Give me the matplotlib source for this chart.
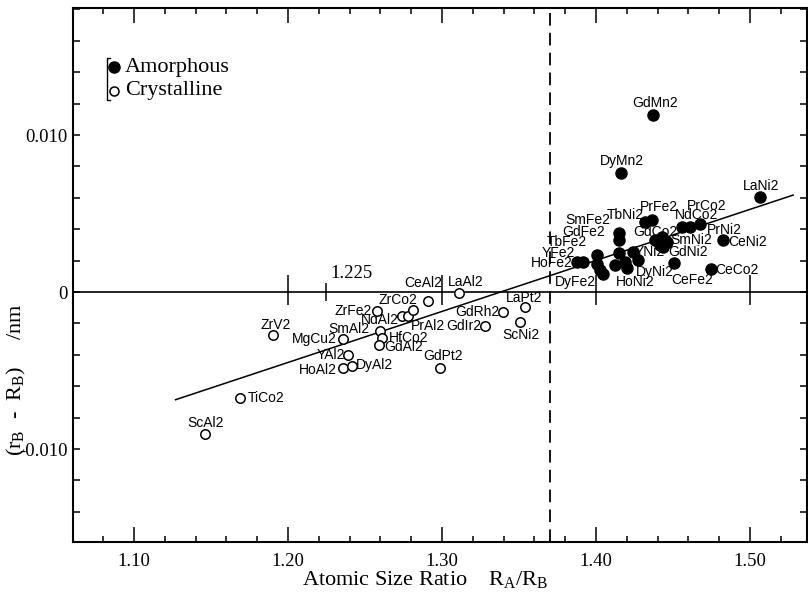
import matplotlib
matplotlib.use("Agg")
import matplotlib.pyplot as plt
from matplotlib.ticker import MultipleLocator, FixedLocator, FixedFormatter

plt.rcParams["font.family"] = ["Liberation Serif", "DejaVu Serif"]
plt.rcParams["mathtext.default"] = "regular"

# crystalline Laves phases (open circles)
crys_names = ["ZrV2", "MgCu2", "ZrFe2", "SmAl2", "HfCo2", "GdAl2", "NdAl2",
              "PrAl2", "ZrCo2", "CeAl2", "LaAl2", "YAl2", "HoAl2", "DyAl2",
              "GdPt2", "GdRh2", "GdIr2", "LaPt2", "ScNi2", "TiCo2", "ScAl2"]
crys_x = [1.1905, 1.2359, 1.2576, 1.2597, 1.2608, 1.2593, 1.2738,
          1.2781, 1.2814, 1.2911, 1.3112, 1.2392, 1.2359, 1.2414,
          1.2987, 1.3398, 1.3279, 1.3539, 1.3506, 1.1688, 1.1461]
crys_y = [-0.00274, -0.00301, -0.00119, -0.00246, -0.00291, -0.00338, -0.00153,
          -0.00153, -0.00115, -0.00055, -0.00004, -0.00401, -0.00486, -0.00471,
          -0.00486, -0.00125, -0.00217, -0.00094, -0.00189, -0.00677, -0.00904]

# amorphous after hydrogenation (filled circles)
amor_names = ["GdMn2", "DyMn2", "LaNi2", "CeNi2", "CeCo2", "CeFe2", "HoFe2",
              "YFe2", "TbFe2", "DyFe2", "SmFe2", "GdFe2", "HoNi2", "YNi2",
              "DyNi2", "TbNi2", "PrFe2", "GdCo2", "SmNi2", "GdNi2", "NdCo2",
              "PrCo2", "PrNi2"]
amor_x = [1.4368, 1.4160, 1.5065, 1.4827, 1.4745, 1.4506, 1.3874,
          1.3918, 1.4005, 1.4048, 1.4149, 1.4149, 1.4199, 1.4242,
          1.4275, 1.4318, 1.4362, 1.4383, 1.4459, 1.4437, 1.4556,
          1.4610, 1.4675]
amor_y = [0.01127, 0.00756, 0.00607, 0.00331, 0.00145, 0.00183, 0.00191,
          0.00191, 0.00234, 0.00117, 0.00376, 0.00331, 0.00151, 0.00257,
          0.00204, 0.00446, 0.00457, 0.00331, 0.00320, 0.00289, 0.00416,
          0.00416, 0.00435]
# unlabelled amorphous points inside the crowded cluster
amor_extra_x = [1.4005, 1.4026, 1.4149, 1.4123, 1.4188, 1.4427, 1.4416]
amor_extra_y = [0.00180, 0.00138, 0.00248, 0.00172, 0.00193, 0.00352, 0.00299]

# linear fit: y = slope * (x - x_zero), drawn over the fitted range
fit_slope = 0.0325
fit_x_zero = 1.338
fit_range = [1.127, 1.528]

critical_ratio = 1.37
ref_marks = [1.20, 1.30, 1.40, 1.50]
ref_mark_ideal = 1.225

x_ticks = [1.10, 1.20, 1.30, 1.40, 1.50]
x_ticklabels = ["1.10", "1.20", "1.30", "1.40", "1.50"]
y_ticks = [-0.010, 0.0, 0.010]
y_ticklabels = ["-0.010", "0", "0.010"]

# label placement, offset in pixels (right, up) from the point
label_offset = {
    "ZrV2": (2, 10), "MgCu2": (-29, 0), "ZrFe2": (-24, 0), "SmAl2": (-31, 2),
    "HfCo2": (27, 0), "GdAl2": (24, -2), "NdAl2": (-22, -4), "PrAl2": (20, -10),
    "ZrCo2": (-15, 10), "CeAl2": (-5, 18), "LaAl2": (6, 11), "YAl2": (-17, 0),
    "HoAl2": (-25, -2), "DyAl2": (23, 1), "GdPt2": (3, 12), "GdRh2": (-26, 0),
    "GdIr2": (-21, 0), "LaPt2": (-1, 9), "ScNi2": (1, -13), "TiCo2": (26, 0),
    "ScAl2": (1, 11),
    "GdMn2": (2, 12), "DyMn2": (1, 12), "LaNi2": (1, 11), "CeNi2": (24, -2),
    "CeCo2": (26, -1), "CeFe2": (18, -17), "HoFe2": (-25, -1), "YFe2": (-25, 9),
    "TbFe2": (-30, 13), "DyFe2": (-28, -8), "SmFe2": (-31, 13), "GdFe2": (-35, 8),
    "HoNi2": (9, -14), "YNi2": (17, 0), "DyNi2": (17, -12), "TbNi2": (-20, 7),
    "PrFe2": (7, 13), "GdCo2": (0, 8), "SmNi2": (25, 2), "GdNi2": (25, -5),
    "NdCo2": (15, 12), "PrCo2": (17, 21), "PrNi2": (24, -6),
}

fig = plt.figure(figsize=(8.08, 5.99), dpi=100)
W, H = 808, 599
ax = fig.add_axes([73 / W, 1 - 542 / H, (807 - 73) / W, (542 - 8) / H])
ax.set_xlim(1.0604, 1.537)
ax.set_ylim(-0.01592, 0.01809)

# reference lines
ax.axhline(0, color="black", lw=1.2, zorder=1)
ax.axvline(critical_ratio, color="black", lw=1.3, dashes=(7, 4), zorder=1)
ax.vlines(ref_marks, -0.0008, 0.0011, color="black", lw=1.1, zorder=1)
ax.vlines([ref_mark_ideal], -0.0006, 0.0006, color="black", lw=1.1, zorder=1)
ax.annotate("1.225", xy=(ref_mark_ideal, 0), xytext=(4, 19),
            textcoords="offset pixels", ha="left", va="center", fontsize=13.5)

fit_y = [fit_slope * (x - fit_x_zero) for x in fit_range]
ax.plot(fit_range, fit_y, color="black", lw=1.1, zorder=1)

ax.plot(crys_x, crys_y, "o", ms=6.8, mfc="white", mec="black", mew=1.1,
        ls="none", zorder=3)
ax.plot(amor_x + amor_extra_x, amor_y + amor_extra_y, "o", ms=8,
        color="black", ls="none", zorder=3)

for names, xs, ys in ((crys_names, crys_x, crys_y), (amor_names, amor_x, amor_y)):
    for n, x, y in zip(names, xs, ys):
        ax.annotate(n, xy=(x, y), xytext=label_offset[n], textcoords="offset pixels",
                    ha="center", va="center", fontsize=10,
                    family=["Liberation Sans", "DejaVu Sans"], zorder=2)

# hand-drawn style legend with a bracket
ax.plot([0.0504, 0.0463, 0.0463, 0.0504], [0.906, 0.906, 0.828, 0.828],
        transform=ax.transAxes, color="black", lw=1.0)
ax.plot([0.0559], [0.8895], "o", ms=8, color="black", transform=ax.transAxes)
ax.plot([0.0559], [0.8446], "o", ms=6.5, mfc="white", mec="black", mew=1.1,
        transform=ax.transAxes)
ax.text(0.0709, 0.8895, "Amorphous", transform=ax.transAxes, va="center",
        ha="left", fontsize=16)
ax.text(0.0709, 0.8446, "Crystalline", transform=ax.transAxes, va="center",
        ha="left", fontsize=16)

# axes, ticks inward on all sides
for s in ax.spines.values():
    s.set_linewidth(1.5)
ax.xaxis.set_major_locator(FixedLocator(x_ticks))
ax.xaxis.set_major_formatter(FixedFormatter(x_ticklabels))
ax.xaxis.set_minor_locator(MultipleLocator(0.02))
ax.yaxis.set_major_locator(FixedLocator(y_ticks))
ax.yaxis.set_major_formatter(FixedFormatter(y_ticklabels))
ax.yaxis.set_minor_locator(MultipleLocator(0.002))
ax.tick_params(axis="both", which="both", direction="in", top=True, right=True,
               width=1.1, labelsize=13.5)
ax.tick_params(axis="x", which="major", length=11, pad=8)
ax.tick_params(axis="x", which="minor", length=4.5)
ax.tick_params(axis="y", which="both", length=5, pad=4)

fig.text(425 / W, 1 - 580 / H,
         "Atomic Size Ratio    R$_{A}$/R$_{B}$", ha="center", va="center",
         fontsize=16)
fig.text(16 / W, 1 - 380 / H, "(r$_{B}$  -  R$_{B}$)     /nm", rotation=90,
         ha="center", va="center", fontsize=16)

fig.savefig("out.png", dpi=100)
